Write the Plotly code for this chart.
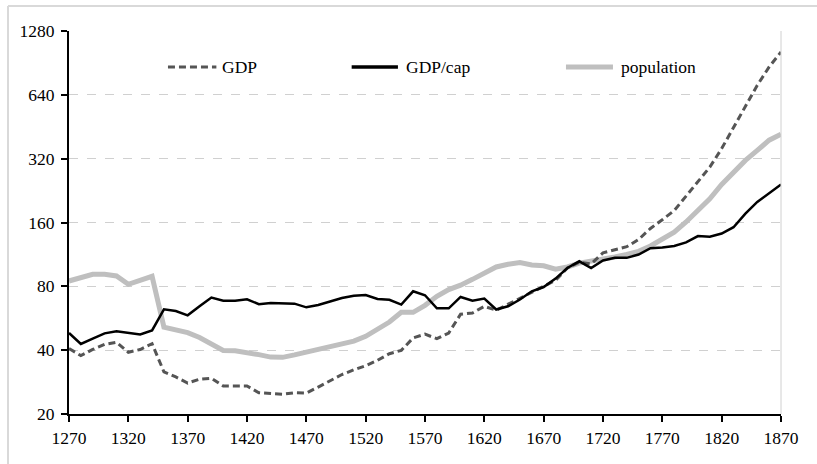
import plotly.graph_objects as go
import math

years = [1270, 1280, 1290, 1300, 1310, 1320, 1330, 1340, 1350, 1360,
         1370, 1380, 1390, 1400, 1410, 1420, 1430, 1440, 1450, 1460,
         1470, 1480, 1490, 1500, 1510, 1520, 1530, 1540, 1550, 1560,
         1570, 1580, 1590, 1600, 1610, 1620, 1630, 1640, 1650, 1660,
         1670, 1680, 1690, 1700, 1710, 1720, 1730, 1740, 1750, 1760,
         1770, 1780, 1790, 1800, 1810, 1820, 1830, 1840, 1850, 1860, 1870]

gdp = [40.7, 37.7, 40.3, 42.6, 43.6, 39.1, 40.3, 42.9,
       31.6, 29.9, 28, 29.2, 29.5, 27.1, 27.1, 27.1, 25.2, 25,
       24.8, 25.2, 25.1, 26.8, 28.6, 30.7, 32.3, 33.8, 35.8, 38.5,
       39.9, 45.7, 47.6, 45.3, 48.2, 59.1, 59.9, 64.4, 61.7, 65.9,
       70, 75.2, 80, 85.4, 97.6, 104, 102, 115, 119, 123,
       133, 150, 165, 182, 213, 249, 292, 357, 451, 571,
       710, 866, 1019]

gdp_cap = [48.2, 42.8, 45.3, 48, 49.1, 48.2, 47.4, 49.6,
           62.3, 61.2, 58.4, 64.4, 70.8, 68.5, 68.5, 69.5, 65.9, 66.8,
           66.8, 66.3, 63.7, 65.3, 67.8, 70.5, 72.3, 72.8, 69.7, 69.1,
           65.6, 75.8, 72.6, 63, 63, 71.3, 68.5, 70, 62.2, 64.4,
           69.3, 75.8, 79.4, 87, 97.6, 105, 97.6, 106, 109, 109,
           113, 121, 122, 124, 129, 138, 137, 142, 152, 176,
           200, 220, 242]

population = [84.8, 88.5, 91.2, 91.2, 89.5, 81.8, 85.4, 89.2,
              51.4, 49.6, 48.4, 45.9, 42.5, 39.9, 39.7, 39.1, 38.1, 37.1,
              37, 38, 39.2, 40.3, 41.4, 42.6, 44.1, 46.5, 50.3, 54.3,
              60.3, 60.3, 65.1, 71.8, 77.2, 81, 86.3, 92.5, 98.7, 101.6,
              103.5, 100.9, 100, 96.3, 98.7, 103, 105, 108, 110, 113,
              117, 124, 134, 144, 161, 182, 207, 242, 277, 314,
              350, 391, 417]

x_ticks = [1270, 1320, 1370, 1420, 1470, 1520, 1570, 1620, 1670, 1720, 1770, 1820, 1870]
y_ticks = [20, 40, 80, 160, 320, 640, 1280]

series_names = ["GDP", "GDP/cap", "population"]

FONT = "Liberation Serif"
FS = 17.5
C_GDP = "#555555"
C_CAP = "#000000"
C_POP = "#bfbfbf"

fig = go.Figure()
fig.add_trace(go.Scatter(x=years, y=population, mode="lines", name=series_names[2],
                         line=dict(color=C_POP, width=5)))
fig.add_trace(go.Scatter(x=years, y=gdp, mode="lines", name=series_names[0],
                         line=dict(color=C_GDP, width=3, dash="7px,4px")))
fig.add_trace(go.Scatter(x=years, y=gdp_cap, mode="lines", name=series_names[1],
                         line=dict(color=C_CAP, width=2.5)))

fig.update_layout(
    width=817, height=464,
    margin=dict(l=69, r=36, t=31, b=50),
    paper_bgcolor="white", plot_bgcolor="white",
    showlegend=False,
    font=dict(family=FONT, size=FS, color="#000000"),
)
fig.update_xaxes(
    range=[1270, 1870], tickvals=x_ticks, ticktext=[str(v) for v in x_ticks],
    showgrid=False, zeroline=False,
    showline=True, linecolor="#000000", linewidth=2,
    ticks="outside", ticklen=6, tickwidth=1.5, tickcolor="#000000",
    ticklabelstandoff=1,
    tickfont=dict(family=FONT, size=FS, color="#000000"),
)
fig.update_yaxes(
    type="log", range=[math.log10(20), math.log10(1280)],
    tickvals=y_ticks, ticktext=[str(v) for v in y_ticks],
    showgrid=True, gridcolor="#d0d0d0", gridwidth=1, griddash="dash",
    zeroline=False,
    showline=True, linecolor="#000000", linewidth=2,
    ticks="outside", ticklen=6, tickwidth=1.5, tickcolor="#000000",
    ticklabelstandoff=3,
    tickfont=dict(family=FONT, size=FS, color="#000000"),
)

shapes = []
# right border of the plot area
shapes.append(dict(type="line", xref="paper", yref="paper", x0=1, x1=1, y0=0, y1=1,
                   line=dict(color="#d0d0d0", width=1)))
# outer chart border (top and left visible)
shapes.append(dict(type="line", xref="paper", yref="paper", x0=-0.0857, x1=1.2,
                   y0=1.0653, y1=1.0653, line=dict(color="#d9d9d9", width=2)))
shapes.append(dict(type="line", xref="paper", yref="paper", x0=-0.0857, x1=-0.0857,
                   y0=-0.3, y1=1.0653, line=dict(color="#d9d9d9", width=2)))

# legend drawn manually
leg_y = 0.906
leg_items = [
    (0.139, 0.207, 0.212, series_names[0], dict(color=C_GDP, width=3, dash="7px,4px")),
    (0.397, 0.462, 0.470, series_names[1], dict(color=C_CAP, width=3.5)),
    (0.698, 0.764, 0.772, series_names[2], dict(color=C_POP, width=5)),
]
annotations = []
for x0, x1, xt, name, ln in leg_items:
    shapes.append(dict(type="line", xref="paper", yref="paper", x0=x0, x1=x1,
                       y0=leg_y, y1=leg_y, line=ln))
    annotations.append(dict(xref="paper", yref="paper", x=xt, y=leg_y, text=name,
                            showarrow=False, xanchor="left", yanchor="middle",
                            font=dict(family=FONT, size=FS, color="#000000")))

fig.update_layout(shapes=shapes, annotations=annotations)

fig.write_html("out.html", config={"displayModeBar": False},
               post_script="document.body.style.margin='0px';")
